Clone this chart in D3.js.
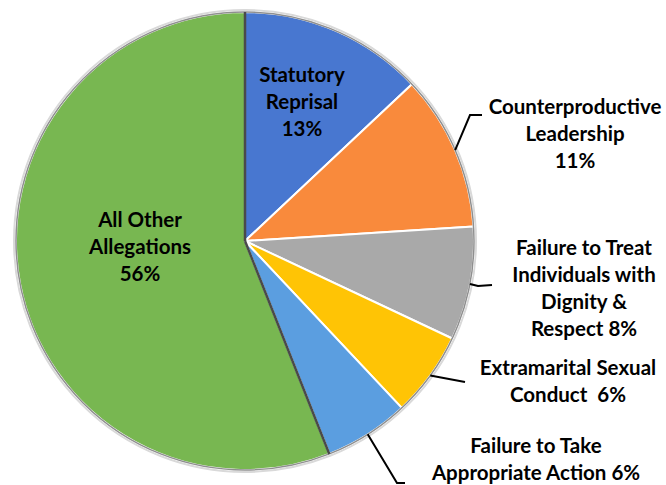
<!DOCTYPE html>
<html>
<head>
<meta charset="utf-8">
<script src="https://cdn.jsdelivr.net/npm/d3@7"></script>
<style>
  body { margin: 0; background: #fff; }
  text { font-family: Lato, "Open Sans", sans-serif; font-weight: bold; fill: #000; }
</style>
</head>
<body>
<svg></svg>
<script>
// data
var categories = ["Statutory Reprisal", "Counterproductive Leadership", "Failure to Treat Individuals with Dignity & Respect",
                  "Extramarital Sexual Conduct", "Failure to Take Appropriate Action", "All Other Allegations"];
var values = [13, 11, 8, 6, 6, 56];
var labelLines = [
  ["Statutory", "Reprisal", "13%"],
  ["Counterproductive", "Leadership", "11%"],
  ["Failure to Treat", "Individuals with", "Dignity &", "Respect 8%"],
  ["Extramarital Sexual", "Conduct  6%"],
  ["Failure to Take", "Appropriate Action 6%"],
  ["All Other", "Allegations", "56%"]
];
var colors = ["#4877d0", "#f98a3c", "#a9a9a9", "#ffc405", "#5b9ee0", "#78b751"];

// layout for labels (x center, first baseline) and leader elbows
var labelPos = [[302, 82], [575, 114], [584, 255], [568, 375], [536, 453], [140, 227]];
var elbows = [null, [[470, 115], [482, 115]], [[478, 286], [492, 285]], [[465, 382]], [[397, 483], [405, 483]], null];

var svgWidth = 666, svgHeight = 485;
var cx = 245, cy = 241, radius = 229;

var svg = d3.select("svg")
            .attr("width", svgWidth)
            .attr("height", svgHeight);

var pie = d3.pie().sort(null).value(function(d){ return d; });
var arcs = pie(values);
var arc = d3.arc().innerRadius(0).outerRadius(radius);

var g = svg.append("g").attr("transform", "translate(" + cx + "," + cy + ")");

// light halo round the pie
g.append("circle").attr("r", radius + 2)
 .attr("fill", "none").attr("stroke", "#d9d9d9").attr("stroke-width", 2);

g.selectAll("path.slice")
 .data(arcs)
 .enter()
 .append("path")
 .attr("class", "slice")
 .attr("d", arc)
 .attr("fill", function(d, i){ return colors[i]; })
 .attr("stroke", "#fff")
 .attr("stroke-width", 2)
 .attr("stroke-linejoin", "round");

// rim
g.append("circle").attr("r", radius)
 .attr("fill", "none").attr("stroke", "#8f8f8f").attr("stroke-width", 1.5);

// dark edges where the green slice meets the others
var green = arcs[arcs.length - 1];
[green.startAngle, green.endAngle].forEach(function(a){
  g.append("line")
   .attr("x1", 0).attr("y1", 0)
   .attr("x2", radius * Math.sin(a)).attr("y2", -radius * Math.cos(a))
   .attr("stroke", "#4a4a4a").attr("stroke-width", 2.5);
});

// leader lines
arcs.forEach(function(d, i){
  if (!elbows[i]) return;
  var mid = (d.startAngle + d.endAngle) / 2;
  var pts = [[cx + radius * Math.sin(mid), cy - radius * Math.cos(mid)]].concat(elbows[i]);
  svg.append("path")
     .attr("d", d3.line()(pts))
     .attr("fill", "none")
     .attr("stroke", "#000")
     .attr("stroke-width", 2);
});

// labels
labelLines.forEach(function(lines, i){
  var t = svg.append("text")
             .attr("text-anchor", "middle")
             .attr("font-size", 20.5);
  lines.forEach(function(s, j){
    t.append("tspan")
     .attr("x", labelPos[i][0])
     .attr("y", labelPos[i][1] + j * 27)
     .attr("xml:space", "preserve")
     .text(s);
  });
});
</script>
</body>
</html>
